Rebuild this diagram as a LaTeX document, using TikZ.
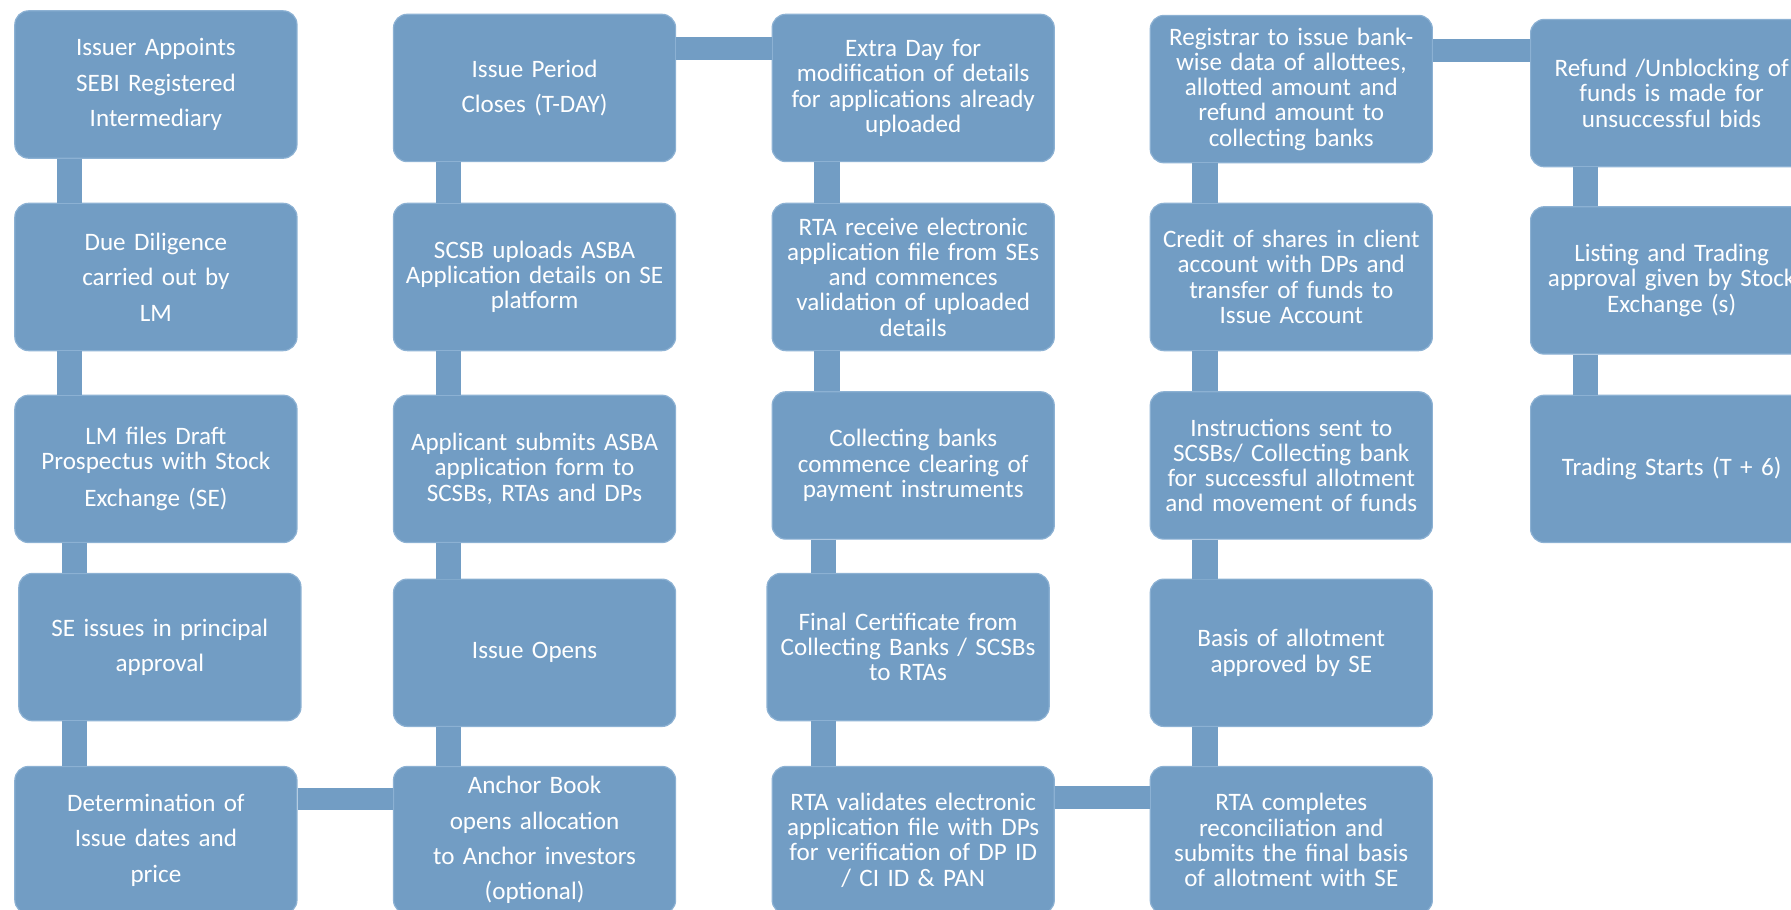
\documentclass[tikz,border=0pt]{standalone}
\usepackage{fontspec}
\setmainfont{Carlito}
\usepackage{tikz}
\definecolor{boxblue}{RGB}{114,157,196}
\definecolor{boxedge}{RGB}{140,177,211}

\begin{document}
\begin{tikzpicture}[
			stage/.style={
				rectangle,
				rounded corners=0.24cm,
				fill=boxblue,
				draw=boxedge,
				line width=0.6pt,
				minimum width=4.94cm,
				minimum height=2.58cm,
				text width=4.85cm,
				align=center,
				inner sep=0pt,
				text=white,
				font=\fontsize{12.5}{12.6}\selectfont
			},
			stagewide/.style={
				stage,
				font=\fontsize{12.5}{17.6}\selectfont
			},
			vlink/.style={
				draw=boxblue,
				line width=0.44cm
			},
			hlink/.style={
				draw=boxblue,
				line width=0.4cm
			}
			]
			\useasboundingbox (0,0) rectangle (31.36,15.92);
			\clip (0,0) rectangle (31.36,15.92);

			% column 1
			\begin{scope}[xshift=2.73cm]
				\node[stagewide] (appoint) at (0,14.44) {Issuer Appoints\\SEBI Registered\\Intermediary};
				\node[stagewide] (diligence) at (0,11.07) {Due Diligence\\carried out by\\LM};
				\node[stage] (draft) at (0,7.71) {LM files Draft\\Prospectus with Stock\\[0.2cm]Exchange (SE)};
				\node[stagewide] (principal) at (0.07,4.59) {SE issues in principal\\approval};
				\node[stagewide] (dates) at (0,1.21) {Determination of\\Issue dates and\\price};
				\draw[vlink] ([xshift=-1.51cm]appoint.south) -- ([xshift=-1.51cm]appoint.south |- diligence.north);
				\draw[vlink] ([xshift=-1.51cm]diligence.south) -- ([xshift=-1.51cm]diligence.south |- draft.north);
				\draw[vlink] ([xshift=-1.42cm]draft.south) -- ([xshift=-1.42cm]draft.south |- principal.north);
				\draw[vlink] ([xshift=-1.42cm]dates.north) -- ([xshift=-1.42cm]dates.north |- principal.south);
			\end{scope}

			% column 2
			\begin{scope}[xshift=9.36cm]
				\node[stagewide] (closes) at (0,14.38) {Issue Period\\Closes (T-DAY)};
				\node[stage] (upload) at (0,11.07) {SCSB uploads ASBA\\Application details on SE\\platform};
				\node[stage] (submit) at (0,7.71) {Applicant submits ASBA\\application form to\\SCSBs, RTAs and DPs};
				\node[stage] (opens) at (0,4.49) {Issue Opens};
				\node[stagewide] (anchor) at (0,1.21) {Anchor Book\\opens allocation\\to Anchor investors\\(optional)};
				\draw[vlink] ([xshift=-1.51cm]closes.south) -- ([xshift=-1.51cm]closes.south |- upload.north);
				\draw[vlink] ([xshift=-1.51cm]upload.south) -- ([xshift=-1.51cm]upload.south |- submit.north);
				\draw[vlink] ([xshift=-1.51cm]submit.south) -- ([xshift=-1.51cm]submit.south |- opens.north);
				\draw[vlink] ([xshift=-1.51cm]opens.south) -- ([xshift=-1.51cm]opens.south |- anchor.north);
			\end{scope}

			% column 3
			\begin{scope}[xshift=15.99cm]
				\node[stage] (extra) at (0,14.38) {Extra Day for\\modification of details\\for applications already\\uploaded};
				\node[stage] (receive) at (0,11.07) {RTA receive electronic\\application file from SEs\\and commences\\validation of uploaded\\details};
				\node[stage] (clearing) at (0,7.77) {Collecting banks\\commence clearing of\\payment instruments};
				\node[stage] (certificate) at (-0.09,4.59) {Final Certificate from\\Collecting Banks / SCSBs\\to RTAs};
				\node[stage] (validates) at (0,1.21) {RTA validates electronic\\application file with DPs\\for verification of DP ID\\/ CI ID \& PAN};
				\draw[vlink] ([xshift=-1.51cm]extra.south) -- ([xshift=-1.51cm]extra.south |- receive.north);
				\draw[vlink] ([xshift=-1.51cm]receive.south) -- ([xshift=-1.51cm]receive.south |- clearing.north);
				\draw[vlink] ([xshift=-1.57cm]clearing.south) -- ([xshift=-1.57cm]clearing.south |- certificate.north);
				\draw[vlink] ([xshift=-1.57cm]validates.north) -- ([xshift=-1.57cm]validates.north |- certificate.south);
			\end{scope}

			% column 4
			\begin{scope}[xshift=22.61cm]
				\node[stage] (registrar) at (0,14.36) {Registrar to issue bank-\\wise data of allottees,\\allotted amount and\\refund amount to\\collecting banks};
				\node[stage] (credit) at (0,11.07) {Credit of shares in client\\account with DPs and\\transfer of funds to\\Issue Account};
				\node[stage] (instruct) at (0,7.77) {Instructions sent to\\SCSBs/ Collecting bank\\for successful allotment\\and movement of funds};
				\node[stage] (basis) at (0,4.49) {Basis of allotment\\approved by SE};
				\node[stage] (reconcile) at (0,1.21) {RTA completes\\reconciliation and\\submits the final basis\\of allotment with SE};
				\draw[vlink] ([xshift=-1.51cm]registrar.south) -- ([xshift=-1.51cm]registrar.south |- credit.north);
				\draw[vlink] ([xshift=-1.51cm]credit.south) -- ([xshift=-1.51cm]credit.south |- instruct.north);
				\draw[vlink] ([xshift=-1.51cm]instruct.south) -- ([xshift=-1.51cm]instruct.south |- basis.north);
				\draw[vlink] ([xshift=-1.51cm]basis.south) -- ([xshift=-1.51cm]basis.south |- reconcile.north);
			\end{scope}

			% column 5
			\begin{scope}[xshift=29.27cm]
				\node[stage] (refund) at (0,14.29) {Refund /Unblocking of\\funds is made for\\unsuccessful bids};
				\node[stage] (listing) at (0,11.01) {Listing and Trading\\approval given by Stock\\Exchange (s)};
				\node[stage] (trading) at (0,7.71) {Trading Starts (T + 6)};
				\draw[vlink] ([xshift=-1.51cm]refund.south) -- ([xshift=-1.51cm]refund.south |- listing.north);
				\draw[vlink] ([xshift=-1.51cm]listing.south) -- ([xshift=-1.51cm]listing.south |- trading.north);
			\end{scope}

			% links across columns
			\draw[hlink] ([yshift=-0.58cm]dates.north east) -- ([yshift=-0.58cm]dates.north east -| anchor.west);
			\draw[hlink] ([yshift=-0.61cm]closes.north east) -- ([yshift=-0.61cm]closes.north east -| extra.west);
			\draw[hlink] ([yshift=-0.56cm]validates.north east) -- ([yshift=-0.56cm]validates.north east -| reconcile.west);
			\draw[hlink] ([yshift=-0.62cm]registrar.north east) -- ([yshift=-0.62cm]registrar.north east -| refund.west);
		\end{tikzpicture}
\end{document}
